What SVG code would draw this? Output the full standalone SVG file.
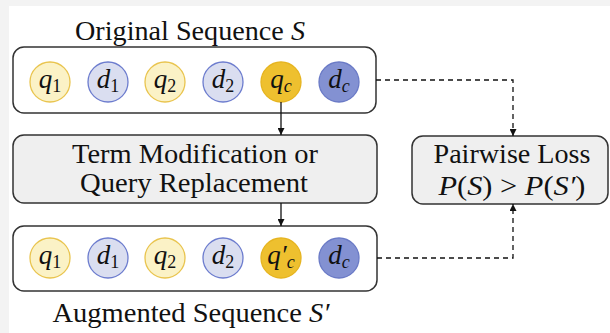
<svg xmlns="http://www.w3.org/2000/svg" width="610" height="333" viewBox="0 0 610 333">
<defs>
<marker id="ah" viewBox="0 0 10 10" refX="10" refY="5" markerWidth="7" markerHeight="7" orient="auto" markerUnits="userSpaceOnUse"><path d="M0,0 L10,5 L0,10 z" fill="#111"/></marker>
</defs>
<style>
.t{font-family:"Liberation Serif",serif;font-size:27px;fill:#111;text-anchor:middle}
.m{font-family:"Liberation Serif",serif;font-style:italic;font-size:27px;fill:#111;text-anchor:middle}
.s{font-size:18px;font-style:normal}
.si{font-size:18px;font-style:italic}
.u{font-style:normal}
.box{fill:#fff;stroke:#333;stroke-width:1.5}
.gbox{fill:#efefef;stroke:#333;stroke-width:1.5}
.ql{fill:#fbf2c6;stroke:#e9c44e;stroke-width:1.3}
.qd{fill:#eec02f;stroke:#e6b420;stroke-width:1.3}
.dl{fill:#dadef0;stroke:#6c7cce;stroke-width:1.3}
.dd{fill:#8391d2;stroke:#6a7ac6;stroke-width:1.3}
.c{fill:none;stroke:#111;stroke-width:1.3}
.dash{stroke-dasharray:5 4}
</style>
<rect x="0" y="0" width="610" height="333" fill="#f3f3f3"/>
<rect x="9" y="6" width="601" height="327" fill="#fff"/>

<g id="title-top"><text class="t" x="190" y="40" textLength="230" lengthAdjust="spacingAndGlyphs">Original Sequence <tspan font-style="italic">S</tspan></text></g>

<g id="seq-original">
<rect class="box" x="13" y="47" width="363" height="66" rx="11"/>
<circle class="ql" cx="50" cy="82" r="20"/>
<text class="m" x="50" y="88">q<tspan class="s" dy="4">1</tspan></text>
<circle class="dl" cx="108" cy="82" r="20"/>
<text class="m" x="108" y="88">d<tspan class="s" dy="4">1</tspan></text>
<circle class="ql" cx="165" cy="82" r="20"/>
<text class="m" x="165" y="88">q<tspan class="s" dy="4">2</tspan></text>
<circle class="dl" cx="223" cy="82" r="20"/>
<text class="m" x="223" y="88">d<tspan class="s" dy="4">2</tspan></text>
<circle class="qd" cx="281" cy="82" r="20"/>
<text class="m" x="281" y="88">q<tspan class="si" dy="4">c</tspan></text>
<circle class="dd" cx="339" cy="82" r="20"/>
<text class="m" x="339" y="88">d<tspan class="si" dy="4">c</tspan></text>
</g>

<g id="term-mod">
<rect class="gbox" x="13" y="135" width="364" height="68" rx="11"/>
<text class="t" x="195" y="163" textLength="246" lengthAdjust="spacingAndGlyphs">Term Modification or</text>
<text class="t" x="194" y="192" textLength="228" lengthAdjust="spacingAndGlyphs">Query Replacement</text>
</g>

<g id="seq-augmented">
<rect class="box" x="13" y="226" width="364" height="65" rx="11"/>
<circle class="ql" cx="50" cy="258" r="20"/>
<text class="m" x="50" y="264">q<tspan class="s" dy="4">1</tspan></text>
<circle class="dl" cx="108" cy="258" r="20"/>
<text class="m" x="108" y="264">d<tspan class="s" dy="4">1</tspan></text>
<circle class="ql" cx="165" cy="258" r="20"/>
<text class="m" x="165" y="264">q<tspan class="s" dy="4">2</tspan></text>
<circle class="dl" cx="223" cy="258" r="20"/>
<text class="m" x="223" y="264">d<tspan class="s" dy="4">2</tspan></text>
<circle class="qd" cx="281" cy="258" r="20"/>
<text class="m" x="281" y="264">q′<tspan class="si" dy="4">c</tspan></text>
<circle class="dd" cx="339" cy="258" r="20"/>
<text class="m" x="339" y="264">d<tspan class="si" dy="4">c</tspan></text>
</g>

<g id="title-bottom"><text class="t" x="191" y="322" textLength="277" lengthAdjust="spacingAndGlyphs">Augmented Sequence <tspan font-style="italic">S′</tspan></text></g>

<g id="pairwise">
<rect class="gbox" x="412" y="136" width="196" height="68" rx="11"/>
<text class="t" x="512" y="163" textLength="157" lengthAdjust="spacingAndGlyphs">Pairwise Loss</text>
<text class="m" x="512" y="195" textLength="147" lengthAdjust="spacingAndGlyphs">P<tspan class="u">(</tspan>S<tspan class="u">) &gt; </tspan>P<tspan class="u">(</tspan>S′<tspan class="u">)</tspan></text>
</g>

<g id="connectors">
<line class="c" x1="281" y1="102" x2="281" y2="135" marker-end="url(#ah)"/>
<line class="c" x1="281" y1="203" x2="281" y2="226" marker-end="url(#ah)"/>
<path class="c dash" d="M376,80 H513 V136" marker-end="url(#ah)"/>
<path class="c dash" d="M377,258 H513 V204" marker-end="url(#ah)"/>
</g>
</svg>
